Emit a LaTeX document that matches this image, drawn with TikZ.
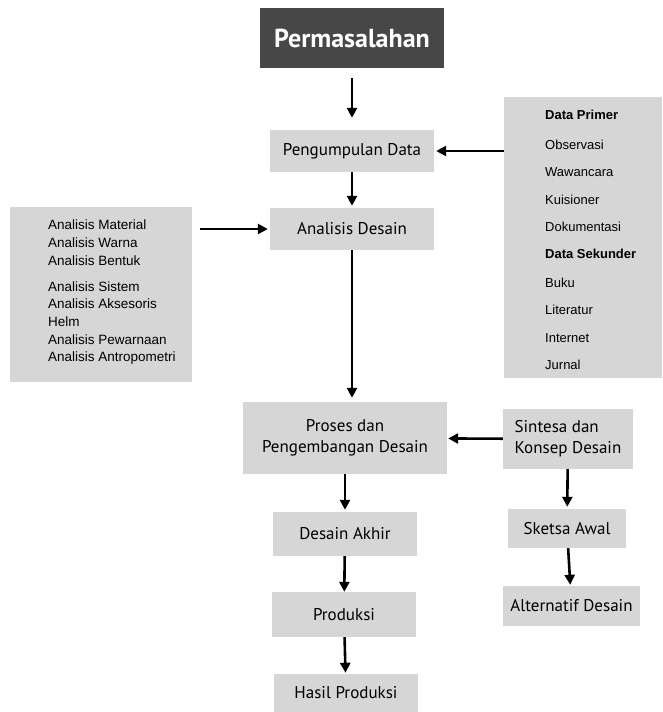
\documentclass[tikz,border=0pt]{standalone}
\usepackage{fontspec}
\setmainfont{PT Sans}
\newfontfamily\listfont{Liberation Sans}
\usetikzlibrary{arrows.meta}

\begin{document}
\begin{tikzpicture}[x=1pt,y=-1pt]
        % Gaya untuk kotak dan panah
        \tikzstyle{kotak}=[fill=gray!32, inner sep=0pt, font=\fontsize{17}{21}\selectfont]
        \tikzstyle{daftar}=[fill=gray!32, inner sep=0pt]
        \tikzstyle{isi}=[anchor=west, inner sep=0pt, font=\listfont\fontsize{13}{15}\selectfont]
        \tikzstyle{panah}=[-{Triangle[length=10pt,width=10pt]}, line width=2.6pt, shorten >=2pt]

        \useasboundingbox (0,0) rectangle (662,712);

        % Kotak utama
        \node[fill=black!72, text=white, minimum width=184, minimum height=60, inner sep=0pt,
              font=\bfseries\fontsize{26}{30}\selectfont] (masalah) at (352,38) {Permasalahan};
        \node[kotak, minimum width=164, minimum height=42] (kumpul) at (352,151) {Pengumpulan Data};
        \node[kotak, minimum width=164, minimum height=42] (analisis) at (352,229) {Analisis Desain};
        \node[kotak, minimum width=204, minimum height=72, align=center] (proses) at (345,438) {Proses dan\\Pengembangan Desain};
        \node[kotak, minimum width=130, minimum height=60, align=left] (sintesa) at (568,439) {Sintesa dan\\Konsep Desain};
        \node[kotak, minimum width=144, minimum height=44] (akhir) at (345,534) {Desain Akhir};
        \node[kotak, minimum width=144, minimum height=45] (produksi) at (344,614.5) {Produksi};
        \node[kotak, minimum width=144, minimum height=38] (hasil) at (346,693) {Hasil Produksi};
        \node[kotak, minimum width=118, minimum height=39] (sketsa) at (567,528.5) {Sketsa Awal};
        \node[kotak, minimum width=137, minimum height=40] (alternatif) at (571.5,606) {Alternatif Desain};

        % Kotak daftar
        \node[daftar, minimum width=158, minimum height=281] (data) at (583,237.5) {};
        \node[daftar, minimum width=182, minimum height=175] (kiri) at (101,294.5) {};

        % Isi daftar data
        \node[isi, font=\listfont\bfseries\fontsize{13}{15}\selectfont] (d1) at (545,115) {Data Primer};
        \node[isi] (d2) at (545,145) {Observasi};
        \node[isi] (d3) at (545,172) {Wawancara};
        \node[isi] (d4) at (545,200) {Kuisioner};
        \node[isi] (d5) at (545,227) {Dokumentasi};
        \node[isi, font=\listfont\bfseries\fontsize{13}{15}\selectfont] (d6) at (545,254) {Data Sekunder};
        \node[isi] (d7) at (545,283) {Buku};
        \node[isi] (d8) at (545,310) {Literatur};
        \node[isi] (d9) at (545,338) {Internet};
        \node[isi] (d10) at (545,365) {Jurnal};

        % Isi daftar analisis
        \node[isi, font=\listfont\fontsize{13.5}{15}\selectfont] (a1) at (48,225) {Analisis Material};
        \node[isi, font=\listfont\fontsize{13.5}{15}\selectfont] (a2) at (48,243) {Analisis Warna};
        \node[isi, font=\listfont\fontsize{13.5}{15}\selectfont] (a3) at (48,261) {Analisis Bentuk};
        \node[isi, font=\listfont\fontsize{13.5}{15}\selectfont] (a4) at (48,287) {Analisis Sistem};
        \node[isi, font=\listfont\fontsize{13.5}{15}\selectfont] (a5) at (48,304) {Analisis Aksesoris};
        \node[isi, font=\listfont\fontsize{13.5}{15}\selectfont] (a6) at (48,322) {Helm};
        \node[isi, font=\listfont\fontsize{13.5}{15}\selectfont] (a7) at (48,340) {Analisis Pewarnaan};
        \node[isi, font=\listfont\fontsize{13.5}{15}\selectfont] (a8) at (48,358) {Analisis Antropometri};

        % Panah
        \draw[panah, shorten <=10pt, shorten >=12pt] (masalah) -- (kumpul);
        \draw[panah] (data.west |- kumpul) -- (kumpul);
        \draw[panah] (kumpul) -- (analisis);
        \draw[panah, shorten <=8pt] (kiri.east |- analisis) -- (analisis);
        \draw[panah, shorten >=4pt] (analisis) -- (analisis |- proses.north);
        \draw[panah, shorten >=1pt] (sintesa) -- (proses);
        \draw[panah] (proses) -- (akhir);
        \draw[panah, shorten >=0pt] (akhir) -- (produksi);
        \draw[panah, shorten >=1pt] (produksi) -- (hasil);
        \draw[panah] (sintesa) -- (sketsa);
        \draw[panah, shorten >=1pt] (sketsa) -- (alternatif);
    \end{tikzpicture}
\end{document}
